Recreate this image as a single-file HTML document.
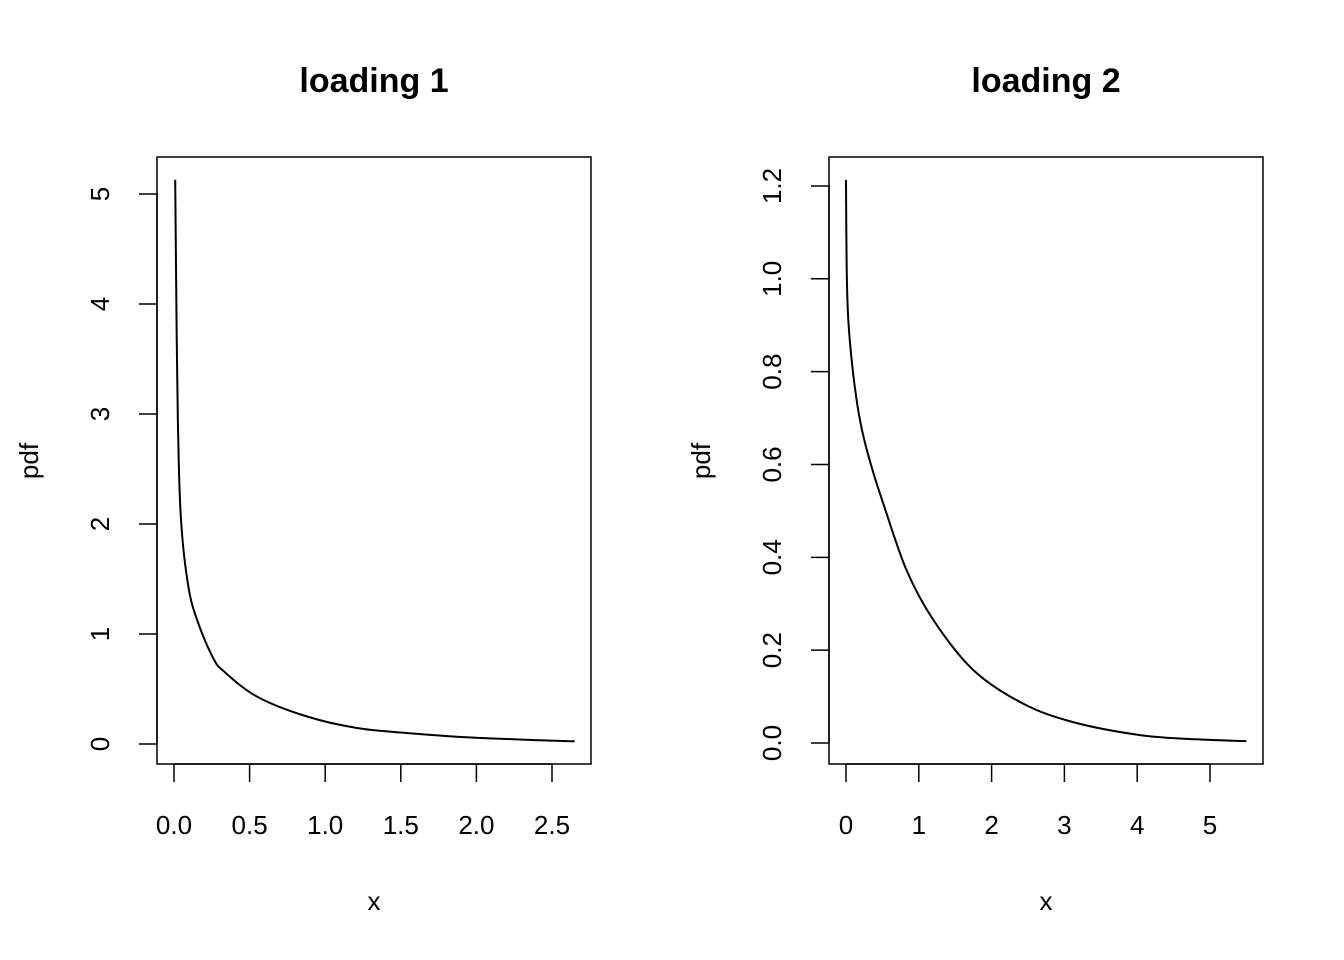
<!DOCTYPE html>
<html><head><meta charset="utf-8"><style>
body{margin:0;background:#fff;}
svg{display:block;font-family:"Liberation Sans",Arial,sans-serif;}
</style></head><body>
<svg id="chart" width="1344" height="960" xmlns="http://www.w3.org/2000/svg"></svg>
<script>
const xs1=[0.008,0.018,0.028,0.046,0.095,0.16,0.26,0.33,0.55,0.88,1.21,1.5,1.87,2.3,2.65];
const ys1=[5.13,3.7,2.79,2.04,1.43,1.10,0.78,0.66,0.43,0.25,0.145,0.105,0.066,0.04,0.025];
const xs2=[0.0,0.01,0.032,0.092,0.16,0.24,0.37,0.51,0.83,1.2,1.75,2.43,3.12,4.04,4.8,5.5];
const ys2=[1.213,1.02,0.911,0.804,0.725,0.66,0.585,0.517,0.373,0.265,0.157,0.085,0.045,0.017,0.008,0.004];
const xt1=[0,0.5,1,1.5,2,2.5], xl1=["0.0","0.5","1.0","1.5","2.0","2.5"];
const yt1=[0,1,2,3,4,5], yl1=["0","1","2","3","4","5"];
const xt2=[0,1,2,3,4,5], xl2=["0","1","2","3","4","5"];
const yt2=[0,0.2,0.4,0.6,0.8,1.0,1.2], yl2=["0.0","0.2","0.4","0.6","0.8","1.0","1.2"];
const svg=document.getElementById('chart');
const NS='http://www.w3.org/2000/svg';
function el(t,a,p){const e=document.createElementNS(NS,t);for(const k in a)e.setAttribute(k,a[k]);(p||svg).appendChild(e);return e;}
function smooth(pts){
 let d='M'+pts[0][0].toFixed(1)+','+pts[0][1].toFixed(1);
 for(let i=0;i<pts.length-1;i++){
  const p0=pts[Math.max(0,i-1)],p1=pts[i],p2=pts[i+1],p3=pts[Math.min(pts.length-1,i+2)];
  const c1=[p1[0]+(p2[0]-p0[0])/6,p1[1]+(p2[1]-p0[1])/6];
  const c2=[p2[0]-(p3[0]-p1[0])/6,p2[1]-(p3[1]-p1[1])/6];
  d+='C'+c1[0].toFixed(1)+','+c1[1].toFixed(1)+' '+c2[0].toFixed(1)+','+c2[1].toFixed(1)+' '+p2[0].toFixed(1)+','+p2[1].toFixed(1);
 }
 return d;
}
function panel(o){
 const g=el('g',{});
 
 
 const sx=v=>o.x0+(v-o.xa)*o.kx, sy=v=>o.y0-(v-o.ya)*o.ky;
 const box=el('rect',{x:o.L,y:157,width:434,height:607,fill:'none',stroke:'#000','stroke-width':1.5},g);
 
 const t=el('text',{x:o.L+217,y:92,'text-anchor':'middle','font-size':34,'font-weight':'bold'},g);t.textContent=o.title;
 
 el('line',{x1:sx(o.xt[0]),x2:sx(o.xt[o.xt.length-1]),y1:764,y2:764,stroke:'#000','stroke-width':1.5},g);
 o.xt.forEach((v,i)=>{el('line',{x1:sx(v),x2:sx(v),y1:764,y2:782,stroke:'#000','stroke-width':1.5},g);
  const tx=el('text',{x:sx(v),y:834,'text-anchor':'middle','font-size':26},g);tx.textContent=o.xl[i];
  });
 el('line',{x1:o.L,x2:o.L,y1:sy(o.yt[0]),y2:sy(o.yt[o.yt.length-1]),stroke:'#000','stroke-width':1.5},g);
 o.yt.forEach((v,i)=>{el('line',{x1:o.L-18,x2:o.L,y1:sy(v),y2:sy(v),stroke:'#000','stroke-width':1.5},g);
  const ty=el('text',{x:0,y:0,'text-anchor':'middle','font-size':26,transform:`translate(${o.L-48},${sy(v)}) rotate(-90)`},g);ty.textContent=o.yl[i];
  });
 const xl=el('text',{x:o.L+217,y:910,'text-anchor':'middle','font-size':26},g);xl.textContent='x';
 
 const yl=el('text',{x:0,y:0,'text-anchor':'middle','font-size':26,transform:`translate(${o.L-119},461) rotate(-90)`},g);yl.textContent='pdf';
 
 const pts=o.xs.map((v,i)=>[sx(v),sy(o.ys[i])]);
 const p=el('path',{d:smooth(pts),fill:'none',stroke:'#000','stroke-width':2,'stroke-linejoin':'round'},g);
 
}
panel({name:'panel-loading-1',title:'loading 1',L:157,x0:174,xa:0,kx:151.2,y0:744,ya:0,ky:110,xs:xs1,ys:ys1,xt:xt1,xl:xl1,yt:yt1,yl:yl1});
panel({name:'panel-loading-2',title:'loading 2',L:829,x0:846,xa:0,kx:72.8,y0:743,ya:0,ky:464.2,xs:xs2,ys:ys2,xt:xt2,xl:xl2,yt:yt2,yl:yl2});
</script>
</body></html>
